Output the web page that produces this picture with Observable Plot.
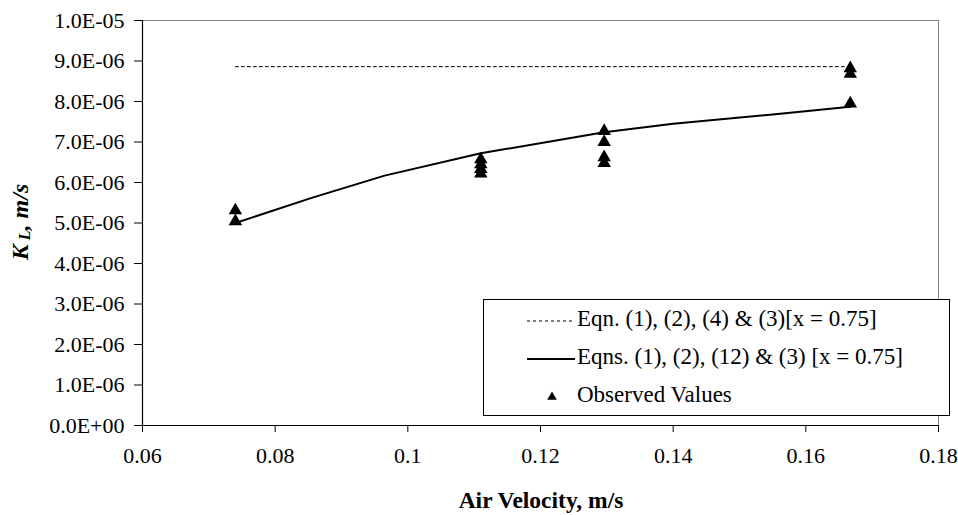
<!DOCTYPE html>
<html>
<head>
<meta charset="utf-8">
<script src="https://cdn.jsdelivr.net/npm/d3@7"></script>
<script src="https://cdn.jsdelivr.net/npm/@observablehq/plot@0.6"></script>
<style>
  html, body { margin: 0; padding: 0; background: #fff; }
  #chart svg { display: block; }
</style>
</head>
<body>
<div id="chart"></div>
<script>
// ---- data ----
const xTicks = [0.06, 0.08, 0.1, 0.12, 0.14, 0.16, 0.18];
const yTicks = [0, 1e-6, 2e-6, 3e-6, 4e-6, 5e-6, 6e-6, 7e-6, 8e-6, 9e-6, 1e-5];

const eqn4Velocity = [0.074, 0.1667];
const eqn4KL = [8.86e-6, 8.86e-6];

const eqn12Velocity = [0.074, 0.0855, 0.0965, 0.111, 0.1296, 0.14, 0.155, 0.1667];
const eqn12KL = [5.0e-6, 5.62e-6, 6.17e-6, 6.72e-6, 7.24e-6, 7.45e-6, 7.68e-6, 7.87e-6];

const obsVelocity = [0.074, 0.074, 0.111, 0.111, 0.111, 0.111, 0.1296, 0.1296, 0.1296, 0.1296, 0.1667, 0.1667, 0.1667];
const obsKL = [5.31e-6, 5.04e-6, 6.57e-6, 6.45e-6, 6.33e-6, 6.22e-6, 7.27e-6, 7.0e-6, 6.62e-6, 6.48e-6, 8.82e-6, 8.68e-6, 7.95e-6];

const legendLabels = ["Eqn. (1), (2), (4) & (3)[x = 0.75]", "Eqns. (1), (2), (12) & (3) [x = 0.75]", "Observed Values"];

// ---- tables ----
const eqn4 = eqn4Velocity.map((v, i) => ({v, k: eqn4KL[i]}));
const eqn12 = eqn12Velocity.map((v, i) => ({v, k: eqn12KL[i]}));
const obs = obsVelocity.map((v, i) => ({v, k: obsKL[i]}));

function sci(d) {
  if (d === 0) return "0.0E+00";
  const [m, e] = d.toExponential(1).split("e");
  const n = +e;
  return m + "E" + (n < 0 ? "-" : "+") + String(Math.abs(n)).padStart(2, "0");
}

const FONT = "'Liberation Serif', 'Times New Roman', serif";
const W = 958, H = 515;

const chart = Plot.plot({
  width: W, height: H,
  marginLeft: 142, marginRight: 20, marginTop: 20, marginBottom: 90,
  style: {fontFamily: FONT, fontSize: "22px", color: "#000", background: "#fff"},
  x: {domain: [0.06, 0.18], ticks: xTicks},
  y: {domain: [0, 1e-5], ticks: yTicks},
  marks: [
    Plot.ruleY([1e-5], {stroke: "#808080", strokeWidth: 1}),
    Plot.ruleX([0.18], {stroke: "#808080", strokeWidth: 1}),
    Plot.axisX({ticks: xTicks, tickFormat: d => String(d), tickSize: 7, tickPadding: 15, fontSize: 22, fontFamily: FONT, label: null, stroke: "#000"}),
    Plot.axisY({ticks: yTicks, tickFormat: sci, tickSize: 8, tickPadding: 10, fontSize: 22, fontFamily: FONT, label: null, stroke: "#000"}),
    Plot.ruleX([0.06], {stroke: "#000", strokeWidth: 1.2}),
    Plot.ruleY([0], {stroke: "#000", strokeWidth: 1.2}),
    Plot.line(eqn4, {x: "v", y: "k", stroke: "#000", strokeWidth: 1, strokeDasharray: "3,3"}),
    Plot.line(eqn12, {x: "v", y: "k", stroke: "#000", strokeWidth: 2}),
    Plot.dot(obs, {x: "v", y: "k", symbol: "triangle", fill: "#000", stroke: "none", r: 5})
  ]
});

document.getElementById("chart").appendChild(chart);

const svg = d3.select(chart);
// axis titles
svg.append("text")
  .attr("x", 541).attr("y", 503)
  .attr("text-anchor", "middle").attr("dominant-baseline", "middle")
  .style("font-family", FONT).attr("font-size", 23.5).attr("font-weight", "bold")
  .text("Air Velocity, m/s");

const yl = svg.append("text")
  .attr("transform", "translate(22,222) rotate(-90)")
  .attr("text-anchor", "middle").attr("dominant-baseline", "middle")
  .style("font-family", FONT).attr("font-size", 24).attr("font-weight", "bold").attr("font-style", "italic");
yl.append("tspan").text("K");
yl.append("tspan").attr("font-size", 16).attr("dy", 4).text(" L");
yl.append("tspan").attr("dy", -4).text(", m/s");

// legend
const lg = svg.append("g");
lg.append("rect").attr("x", 483.5).attr("y", 299.5).attr("width", 466).attr("height", 116)
  .attr("fill", "#fff").attr("stroke", "#000").attr("stroke-width", 1);
const rowsY = [321, 359, 397];
lg.append("line").attr("x1", 527).attr("x2", 575).attr("y1", rowsY[0]).attr("y2", rowsY[0])
  .attr("stroke", "#000").attr("stroke-width", 1).attr("stroke-dasharray", "3,3");
lg.append("line").attr("x1", 527).attr("x2", 575).attr("y1", rowsY[1]).attr("y2", rowsY[1])
  .attr("stroke", "#000").attr("stroke-width", 2);
lg.append("path").attr("d", d3.symbol(d3.symbolTriangle, 40)()).attr("transform", `translate(552,${rowsY[2]})`).attr("fill", "#000");
legendLabels.forEach((t, i) => {
  lg.append("text").attr("x", 577).attr("y", rowsY[i])
    .attr("text-anchor", "start").attr("dominant-baseline", "middle")
    .style("font-family", FONT).attr("font-size", 23)
    .text(t);
});
</script>
</body>
</html>
